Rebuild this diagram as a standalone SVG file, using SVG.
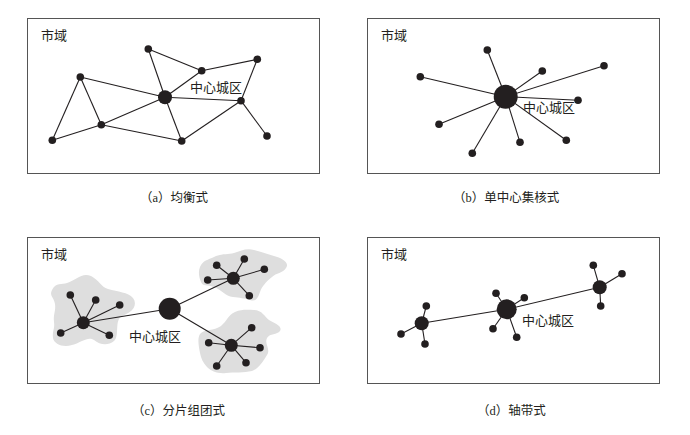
<svg xmlns="http://www.w3.org/2000/svg" width="690" height="435" viewBox="0 0 690 435">
<style>
.frame{fill:#fff;stroke:#555;stroke-width:1}
.e{stroke:#231f20;stroke-width:1.1;fill:none}
.n{fill:#231f20}
.blob{fill:#dedede}
.t{font-family:"Noto Sans CJK SC","Liberation Serif",serif;font-size:13px;fill:#231f20}
.cap{font-family:"Liberation Serif","Noto Sans CJK SC",serif;font-size:12.5px;fill:#231f20}
</style>
<rect width="690" height="435" fill="#fff"/>
<g id="frames">
<rect class="frame" x="27.5" y="18.5" width="292" height="155"/>
<rect class="frame" x="367.5" y="18.5" width="292" height="155"/>
<rect class="frame" x="27.5" y="237.5" width="292" height="146"/>
<rect class="frame" x="367.5" y="237.5" width="292" height="146"/>
</g>
<g id="blobs">
<path class="blob" d="M52,290 C56,282 62,285 67,283 C76,280 82,272 91,276 C99,280 101,287 108,289 C118,292 128,292 133,298 C138,305 133,312 122,316 C114,320 120,336 114,341 C108,346 100,345 94,340 C88,336 82,342 72,345 C63,348 54,344 53,338 C52,331 55,329 54,322 C53,314 56,311 55,304 C54,297 49,296 52,290 Z"/>
<path class="blob" d="M200,267 C203,260 208,260 214,257 C222,253 228,255 234,253 C241,251 246,248 254,250 C262,252 267,254 274,256 C282,258 290,263 286,268 C283,273 276,273 272,277 C266,282 262,286 260,292 C258,298 256,302 250,300 C244,298 240,298 233,297 C225,296 222,290 214,287 C207,284 203,287 201,282 C199,277 198,272 200,267 Z"/>
<path class="blob" d="M200,334 C204,329 214,331 221,326 C227,321 228,315 235,312 C242,309 248,310 254,310 C262,310 265,317 269,320 C274,323 283,326 280,331 C277,335 270,333 267,338 C264,344 271,349 267,355 C263,362 258,369 252,371 C244,373 234,372 226,373 C218,374 211,371 207,367 C203,363 201,358 200,353 C199,347 197,339 200,334 Z"/>
</g>
<g id="connectors">
<!-- a -->
<line class="e" x1="148.3" y1="49" x2="201.7" y2="70.7"/>
<line class="e" x1="201.7" y1="70.7" x2="257.3" y2="59.3"/>
<line class="e" x1="148.3" y1="49" x2="165" y2="97.3"/>
<line class="e" x1="165" y1="97.3" x2="201.7" y2="70.7"/>
<line class="e" x1="257.3" y1="59.3" x2="241" y2="100.7"/>
<line class="e" x1="80.3" y1="77" x2="165" y2="97.3"/>
<line class="e" x1="80.3" y1="77" x2="101.3" y2="124.7"/>
<line class="e" x1="80.3" y1="77" x2="52.3" y2="140.3"/>
<line class="e" x1="52.3" y1="140.3" x2="101.3" y2="124.7"/>
<line class="e" x1="101.3" y1="124.7" x2="165" y2="97.3"/>
<line class="e" x1="101.3" y1="124.7" x2="181.7" y2="141"/>
<line class="e" x1="165" y1="97.3" x2="181.7" y2="141"/>
<line class="e" x1="181.7" y1="141" x2="241" y2="100.7"/>
<line class="e" x1="165" y1="97.3" x2="241" y2="100.7"/>
<line class="e" x1="241" y1="100.7" x2="267" y2="136"/>
<!-- b -->
<line class="e" x1="505.7" y1="96.7" x2="487.3" y2="50"/>
<line class="e" x1="505.7" y1="96.7" x2="542.3" y2="71"/>
<line class="e" x1="505.7" y1="96.7" x2="604" y2="65.7"/>
<line class="e" x1="505.7" y1="96.7" x2="420.3" y2="76.7"/>
<line class="e" x1="505.7" y1="96.7" x2="578" y2="100.3"/>
<line class="e" x1="505.7" y1="96.7" x2="439" y2="124.3"/>
<line class="e" x1="505.7" y1="96.7" x2="472.3" y2="153.3"/>
<line class="e" x1="505.7" y1="96.7" x2="520" y2="142.3"/>
<line class="e" x1="505.7" y1="96.7" x2="566.3" y2="140.3"/>
<!-- c -->
<line class="e" x1="169.7" y1="308.7" x2="83.3" y2="322.7"/>
<line class="e" x1="169.7" y1="308.7" x2="233.3" y2="278.3"/>
<line class="e" x1="169.7" y1="308.7" x2="231.3" y2="345.3"/>
<line class="e" x1="83.3" y1="322.7" x2="70.3" y2="295"/>
<line class="e" x1="83.3" y1="322.7" x2="95.7" y2="300"/>
<line class="e" x1="83.3" y1="322.7" x2="119.7" y2="305"/>
<line class="e" x1="83.3" y1="322.7" x2="60.7" y2="333"/>
<line class="e" x1="83.3" y1="322.7" x2="109.3" y2="335.3"/>
<line class="e" x1="233.3" y1="278.3" x2="216.7" y2="265.3"/>
<line class="e" x1="233.3" y1="278.3" x2="244.3" y2="259"/>
<line class="e" x1="233.3" y1="278.3" x2="264.3" y2="269.3"/>
<line class="e" x1="233.3" y1="278.3" x2="207.7" y2="280"/>
<line class="e" x1="233.3" y1="278.3" x2="249.3" y2="295.7"/>
<line class="e" x1="231.3" y1="345.3" x2="251.7" y2="327.7"/>
<line class="e" x1="231.3" y1="345.3" x2="208.7" y2="342.7"/>
<line class="e" x1="231.3" y1="345.3" x2="260" y2="347.7"/>
<line class="e" x1="231.3" y1="345.3" x2="216.7" y2="366"/>
<line class="e" x1="231.3" y1="345.3" x2="246" y2="362.7"/>
<!-- d -->
<line class="e" x1="421.7" y1="323.3" x2="506.7" y2="309.3"/>
<line class="e" x1="506.7" y1="309.3" x2="599.7" y2="287.3"/>
<line class="e" x1="421.7" y1="323.3" x2="426.3" y2="306"/>
<line class="e" x1="421.7" y1="323.3" x2="401" y2="334"/>
<line class="e" x1="421.7" y1="323.3" x2="425" y2="344"/>
<line class="e" x1="506.7" y1="309.3" x2="496" y2="293.3"/>
<line class="e" x1="506.7" y1="309.3" x2="524.3" y2="297.7"/>
<line class="e" x1="506.7" y1="309.3" x2="493" y2="328.7"/>
<line class="e" x1="506.7" y1="309.3" x2="516.7" y2="337.3"/>
<line class="e" x1="599.7" y1="287.3" x2="593.3" y2="265.3"/>
<line class="e" x1="599.7" y1="287.3" x2="622" y2="273.7"/>
<line class="e" x1="599.7" y1="287.3" x2="600.7" y2="306"/>
</g>
<g id="panel-a">
<g id="a-center"><circle class="n" cx="165" cy="97.3" r="7"/></g>
<g id="a-n1"><circle class="n" cx="148.3" cy="49" r="3.8"/></g>
<g id="a-n2"><circle class="n" cx="201.7" cy="70.7" r="3.8"/></g>
<g id="a-n3"><circle class="n" cx="257.3" cy="59.3" r="3.8"/></g>
<g id="a-n4"><circle class="n" cx="80.3" cy="77" r="3.8"/></g>
<g id="a-n5"><circle class="n" cx="241" cy="100.7" r="3.8"/></g>
<g id="a-n6"><circle class="n" cx="101.3" cy="124.7" r="3.8"/></g>
<g id="a-n7"><circle class="n" cx="52.3" cy="140.3" r="3.8"/></g>
<g id="a-n8"><circle class="n" cx="181.7" cy="141" r="3.8"/></g>
<g id="a-n9"><circle class="n" cx="267" cy="136" r="3.8"/></g>
<text class="t" x="41" y="40">市域</text>
<text class="t" x="190" y="92">中心城区</text>
<text class="cap" x="140" y="202">（a）均衡式</text>
</g>
<g id="panel-b">
<g id="b-center"><circle class="n" cx="505.7" cy="96.7" r="12"/></g>
<g id="b-n1"><circle class="n" cx="487.3" cy="50" r="3.8"/></g>
<g id="b-n2"><circle class="n" cx="542.3" cy="71" r="3.8"/></g>
<g id="b-n3"><circle class="n" cx="604" cy="65.7" r="3.8"/></g>
<g id="b-n4"><circle class="n" cx="420.3" cy="76.7" r="3.8"/></g>
<g id="b-n5"><circle class="n" cx="578" cy="100.3" r="3.8"/></g>
<g id="b-n6"><circle class="n" cx="439" cy="124.3" r="3.8"/></g>
<g id="b-n7"><circle class="n" cx="472.3" cy="153.3" r="3.8"/></g>
<g id="b-n8"><circle class="n" cx="520" cy="142.3" r="3.8"/></g>
<g id="b-n9"><circle class="n" cx="566.3" cy="140.3" r="3.8"/></g>
<text class="t" x="381" y="40">市域</text>
<text class="t" x="523" y="112">中心城区</text>
<text class="cap" x="453" y="202">（b）单中心集核式</text>
</g>
<g id="panel-c">
<g id="c-center"><circle class="n" cx="169.7" cy="308.7" r="11"/></g>
<g id="c-hub1"><circle class="n" cx="83.3" cy="322.7" r="6.5"/>
<circle class="n" cx="70.3" cy="295" r="3.8"/><circle class="n" cx="95.7" cy="300" r="3.8"/><circle class="n" cx="119.7" cy="305" r="3.8"/><circle class="n" cx="60.7" cy="333" r="3.8"/><circle class="n" cx="109.3" cy="335.3" r="3.8"/></g>
<g id="c-hub2"><circle class="n" cx="233.3" cy="278.3" r="6.5"/>
<circle class="n" cx="216.7" cy="265.3" r="3.8"/><circle class="n" cx="244.3" cy="259" r="3.8"/><circle class="n" cx="264.3" cy="269.3" r="3.8"/><circle class="n" cx="207.7" cy="280" r="3.8"/><circle class="n" cx="249.3" cy="295.7" r="3.8"/></g>
<g id="c-hub3"><circle class="n" cx="231.3" cy="345.3" r="6.5"/>
<circle class="n" cx="251.7" cy="327.7" r="3.8"/><circle class="n" cx="208.7" cy="342.7" r="3.8"/><circle class="n" cx="260" cy="347.7" r="3.8"/><circle class="n" cx="216.7" cy="366" r="3.8"/><circle class="n" cx="246" cy="362.7" r="3.8"/></g>
<text class="t" x="41" y="259">市域</text>
<text class="t" x="129" y="341">中心城区</text>
<text class="cap" x="132" y="415">（c）分片组团式</text>
</g>
<g id="panel-d">
<g id="d-center"><circle class="n" cx="506.7" cy="309.3" r="10"/>
<circle class="n" cx="496" cy="293.3" r="3.8"/><circle class="n" cx="524.3" cy="297.7" r="3.8"/><circle class="n" cx="493" cy="328.7" r="3.8"/><circle class="n" cx="516.7" cy="337.3" r="3.8"/></g>
<g id="d-left"><circle class="n" cx="421.7" cy="323.3" r="7"/>
<circle class="n" cx="426.3" cy="306" r="3.8"/><circle class="n" cx="401" cy="334" r="3.8"/><circle class="n" cx="425" cy="344" r="3.8"/></g>
<g id="d-right"><circle class="n" cx="599.7" cy="287.3" r="7"/>
<circle class="n" cx="593.3" cy="265.3" r="3.8"/><circle class="n" cx="622" cy="273.7" r="3.8"/><circle class="n" cx="600.7" cy="306" r="3.8"/></g>
<text class="t" x="381" y="259">市域</text>
<text class="t" x="522" y="325">中心城区</text>
<text class="cap" x="477" y="415">（d）轴带式</text>
</g>
</svg>
